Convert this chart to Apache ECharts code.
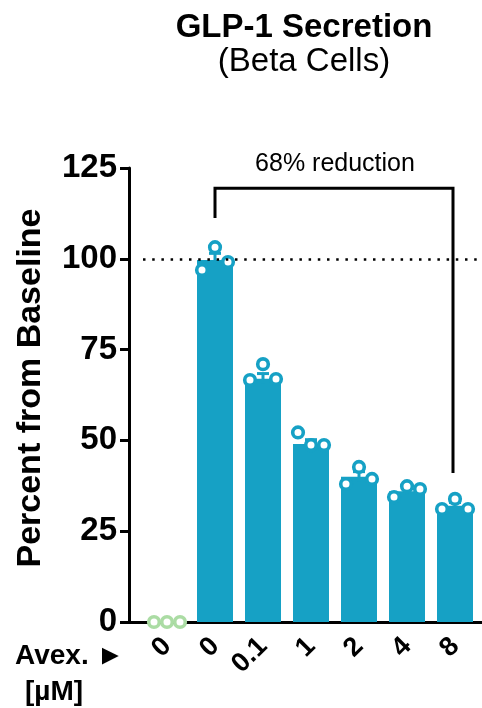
<!DOCTYPE html>
<html>
<head>
<meta charset="utf-8">
<script src="https://cdn.jsdelivr.net/npm/echarts@6/dist/echarts.min.js"></script>
<style>
html,body{margin:0;padding:0;background:#fff;}
#chart{width:482px;height:708px;}
</style>
</head>
<body>
<div id="chart"></div>
<script>
// ---- data ----
const categories = ['0', '0', '0.1', '1', '2', '4', '8'];
const barValues = ['-', 99.7, 67, 49, 40, 36, 32];
const semValues = ['-', 1.8, 1.4, 1.2, 1.4, 0.9, 0.9];
const controlPoints = [0, 0, 0];
const treatedPoints = [
  [96.9, 103.2, 99.1],
  [66.6, 71.0, 66.9],
  [52.2, 48.7, 48.7],
  [38.0, 42.7, 39.4],
  [34.4, 37.4, 36.6],
  [31.1, 33.9, 31.1]
];
const yTicks = [0, 25, 50, 75, 100, 125];
const baselineValue = 100;
const bracket = { from: 1, to: 6, top: 119.4, leftEnd: 111.2, rightEnd: 41, label: '68% reduction' };

// ---- styles ----
const FONT = "'Liberation Sans', Arial, Helvetica, sans-serif";
const BLUE = '#16A1C5';
const GREEN = '#ABDCA4';
const dotOffsets = [-13, 0, 13];

const chart = echarts.init(document.getElementById('chart'), null, { renderer: 'canvas' });

const controlData = controlPoints.map((v, j) => [0, j, v]);
const treatedData = [];
treatedPoints.forEach((arr, i) => arr.forEach((v, j) => treatedData.push([i + 1, j, v])));
const errData = [];
barValues.forEach((v, i) => { if (v !== '-') errData.push([i, v, semValues[i]]); });

function dotRenderer(color) {
  return function (params, api) {
    const p = api.coord([api.value(0), api.value(2)]);
    return {
      type: 'circle',
      shape: { cx: p[0] + dotOffsets[api.value(1)], cy: p[1], r: 5.3 },
      style: { fill: '#fff', stroke: color, lineWidth: 3.6 }
    };
  };
}

const option = {
  animation: false,
  backgroundColor: '#fff',
  title: {
    text: 'GLP-1 Secretion',
    subtext: '(Beta Cells)',
    left: 299,
    top: 6,
    textAlign: 'center',
    itemGap: 1,
    textStyle: { fontFamily: FONT, fontSize: 33, fontWeight: 'bold', color: '#000' },
    subtextStyle: { fontFamily: FONT, fontSize: 33, fontWeight: 'normal', color: '#000' }
  },
  grid: [
    { left: 143, right: 3, top: 168, bottom: 86 },
    { left: 129, right: 0, top: 168, bottom: 86 }
  ],
  xAxis: [
    {
      type: 'category',
      gridIndex: 0,
      data: categories,
      axisLine: { show: false },
      axisTick: { show: false },
      axisLabel: {
        interval: 0, rotate: 45, margin: 20,
        fontFamily: FONT, fontSize: 27, fontWeight: 'bold', color: '#000'
      }
    },
    {
      type: 'value',
      gridIndex: 1,
      min: 0, max: 1,
      axisLine: { show: true, lineStyle: { color: '#000', width: 3 } },
      axisTick: { show: false },
      axisLabel: { show: false },
      splitLine: { show: false }
    }
  ],
  yAxis: [
    {
      type: 'value',
      gridIndex: 0,
      min: yTicks[0],
      max: yTicks[yTicks.length - 1],
      interval: yTicks[1] - yTicks[0],
      offset: 14,
      name: 'Percent from Baseline',
      nameLocation: 'middle',
      nameGap: 81,
      nameTextStyle: { fontFamily: FONT, fontSize: 34, fontWeight: 'bold', color: '#000', padding: [0, 0, 0, 14] },
      axisLine: { show: true, lineStyle: { color: '#000', width: 3 } },
      axisTick: { show: true, length: 9, lineStyle: { color: '#000', width: 3 } },
      axisLabel: { margin: 12, fontFamily: FONT, fontSize: 33, fontWeight: 'bold', color: '#000' },
      splitLine: { show: false }
    },
    { type: 'value', gridIndex: 1, show: false, min: 0, max: 1 }
  ],
  graphic: [
    { type: 'text', left: 15, top: 642, style: { text: 'Avex. \u25BA', fontFamily: FONT, fontSize: 28, fontWeight: 'bold', fill: '#000' } },
    { type: 'text', left: 25, top: 678, style: { text: '[\u00B5M]', fontFamily: FONT, fontSize: 28, fontWeight: 'bold', fill: '#000' } }
  ],
  series: [
    {
      type: 'bar',
      xAxisIndex: 0, yAxisIndex: 0,
      data: barValues,
      barWidth: 36,
      itemStyle: { color: BLUE },
      z: 2,
      markLine: {
        silent: true,
        symbol: 'none',
        label: { show: false },
        lineStyle: { color: '#000', width: 2.5, type: [2.5, 6.7] },
        data: [{ yAxis: baselineValue }]
      }
    },
    {
      type: 'custom',
      xAxisIndex: 0, yAxisIndex: 0,
      data: errData,
      z: 3,
      renderItem: function (params, api) {
        const x = api.value(0), m = api.value(1), s = api.value(2);
        const top = api.coord([x, m + s]);
        const bot = api.coord([x, m - s]);
        return {
          type: 'group',
          children: [
            { type: 'line', shape: { x1: top[0], y1: top[1], x2: bot[0], y2: bot[1] }, style: { stroke: BLUE, lineWidth: 3 } },
            { type: 'line', shape: { x1: top[0] - 6, y1: top[1], x2: top[0] + 6, y2: top[1] }, style: { stroke: BLUE, lineWidth: 3 } }
          ]
        };
      }
    },
    {
      type: 'custom',
      xAxisIndex: 0, yAxisIndex: 0,
      data: treatedData,
      z: 4,
      renderItem: dotRenderer(BLUE)
    },
    {
      type: 'custom',
      xAxisIndex: 0, yAxisIndex: 0,
      data: controlData,
      z: 5,
      clip: false,
      renderItem: dotRenderer(GREEN)
    },
    {
      type: 'custom',
      xAxisIndex: 0, yAxisIndex: 0,
      clip: false,
      z: 6,
      data: [[bracket.from, bracket.to, bracket.top, bracket.leftEnd, bracket.rightEnd]],
      renderItem: function (params, api) {
        const a = api.coord([api.value(0), api.value(3)]);
        const b = api.coord([api.value(0), api.value(2)]);
        const c = api.coord([api.value(1), api.value(2)]);
        const d = api.coord([api.value(1), api.value(4)]);
        return {
          type: 'group',
          children: [
            { type: 'polyline', shape: { points: [a, b, [c[0] - 2, c[1]], [d[0] - 2, d[1]]] }, style: { stroke: '#000', lineWidth: 3, fill: null } },
            { type: 'text', x: (b[0] + c[0]) / 2, y: b[1] - 12, style: { text: bracket.label, fontFamily: FONT, fontSize: 25, fill: '#000', align: 'center', verticalAlign: 'bottom' } }
          ]
        };
      }
    }
  ]
};
chart.setOption(option);
</script>
</body>
</html>
